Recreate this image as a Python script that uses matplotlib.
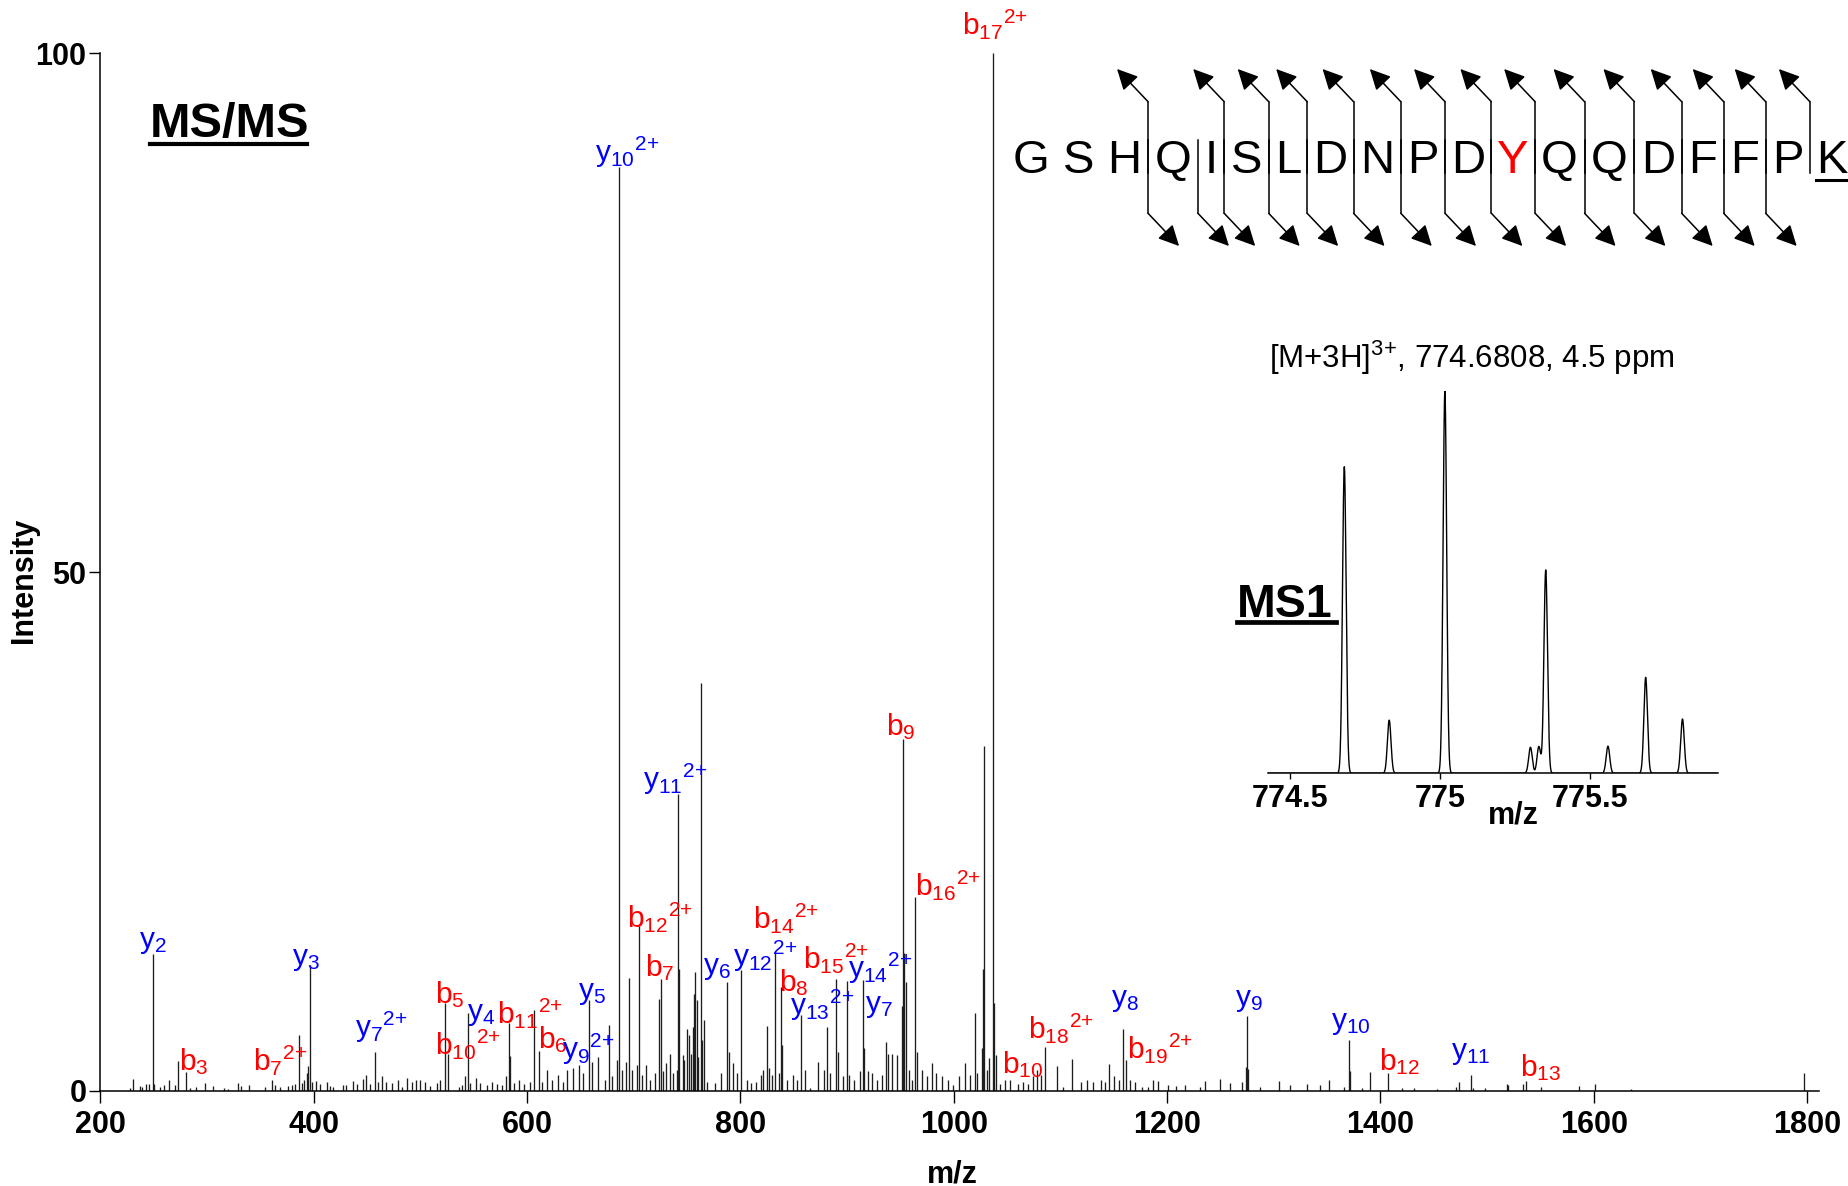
import numpy as np
import matplotlib
matplotlib.use('Agg')
import matplotlib.pyplot as plt
from matplotlib.lines import Line2D
from matplotlib.patches import FancyArrowPatch
from matplotlib.font_manager import FontProperties

plt.rcParams['font.family'] = ['Liberation Sans', 'DejaVu Sans']
plt.rcParams['mathtext.fontset'] = 'custom'
plt.rcParams['mathtext.rm'] = 'Liberation Sans'
plt.rcParams['mathtext.it'] = 'Liberation Sans:italic'
plt.rcParams['mathtext.bf'] = 'Liberation Sans:bold'

W, H = 1849, 1186

# MS/MS centroid list (m/z, relative intensity)
peak_mz = [228.0, 230.7, 236.7, 238.7, 242.7, 245.7, 249.3, 250.7, 255.7, 259.7, 264.3, 270.2,
           273.2, 280.7, 283.7, 289.7, 297.7, 305.2, 316.2, 319.7, 329.4, 332.2, 339.2, 354.3,
           360.7, 363.7, 368.3, 376.2, 379.4, 382.5, 386.3, 389.4, 391.3, 393.5, 395.1, 396.7,
           398.5, 402.3, 406.0, 412.2, 415.4, 418.5, 427.3, 430.4, 436.7, 440.4, 446.1, 449.2,
           453.0, 457.7, 459.9, 464.0, 468.1, 473.4, 479.0, 482.8, 487.5, 492.2, 496.2, 500.0,
           504.7, 509.4, 515.7, 518.7, 523.1, 525.6, 535.9, 539.1, 542.2, 544.4, 546.9, 552.5,
           556.3, 562.5, 567.2, 571.9, 576.7, 580.7, 583.2, 584.2, 587.6, 592.3, 597.0, 602.7,
           606.7, 610.8, 614.2, 618.9,
           623.1, 629.4, 634.1, 637.2, 643.5, 649.1, 652.8, 658.5, 660.7, 666.9, 673.2, 676.9,
           679.5, 684.1, 686.3, 688.8, 692.9, 695.4, 698.2, 702.9, 704.8, 707.5, 711.6, 715.4,
           720.1, 723.8, 725.4, 727.9, 730.4, 734.1, 737.3, 740.4, 742.0, 742.9, 746.0, 747.6,
           750.1, 752.0, 753.5, 755.4, 756.7, 757.9, 759.2, 760.7, 763.5, 764.5, 765.7, 768.5,
           776.4, 782.0, 787.3, 789.2, 792.9, 796.7, 800.8, 806.1, 809.8, 814.8, 819.2, 821.1,
           824.8, 826.4, 829.5, 832.7, 835.8, 837.7, 838.9, 843.6, 849.2, 853.0, 856.4, 860.8,
           865.5, 872.7, 878.0, 881.4, 884.2, 889.5, 891.4,
           895.9, 900.3, 902.1, 906.5, 912.1, 914.6, 915.9, 920.0, 923.1, 927.8, 932.5, 936.2,
           938.7, 941.8, 946.5, 951.2, 952.2, 953.4, 955.0, 958.1, 961.3, 964.1, 965.3, 970.0,
           975.3, 980.0, 983.4, 988.8, 995.0, 999.7, 1005.3, 1010.3, 1015.3, 1019.7, 1022.2,
           1026.3, 1027.8, 1028.8, 1031.0, 1033.5, 1036.9, 1037.8, 1039.4, 1043.5, 1048.2,
           1052.9, 1060.7, 1064.7, 1070.1, 1074.7, 1077.9, 1081.6, 1086.0, 1096.9, 1102.9,
           1111.3, 1119.2, 1124.8, 1131.0, 1137.9, 1142.0, 1146.0, 1150.4, 1154.8, 1159.2,
           1161.7, 1165.4, 1170.1, 1176.4, 1182.5, 1187.3,
           1191.9, 1201.2, 1208.5, 1216.9, 1231.0, 1235.7, 1249.7, 1259.1, 1270.1, 1273.8,
           1275.1, 1276.3, 1287.3, 1305.4, 1315.4, 1331.1, 1343.6, 1352.3, 1365.5, 1370.5,
           1371.7, 1382.6, 1390.2, 1407.2, 1420.0, 1431.9, 1453.0, 1470.9, 1474.0, 1484.8,
           1486.6, 1498.2, 1518.8, 1520.0, 1534.0, 1536.2, 1550.6, 1585.9, 1601.2, 1635.2, 1797.2]
peak_int = [0.26, 1.2, 0.5, 0.4, 0.7, 0.7, 13.2, 0.7, 0.4, 0.6, 1.1, 0.6,
            2.9, 1.8, 0.3, 0.4, 0.8, 0.5, 0.3, 0.2, 0.8, 0.5, 0.6, 0.4,
            1.1, 0.6, 0.4, 0.5, 0.6, 0.7, 5.4, 0.8, 1.1, 1.7, 2.4, 12.0,
            0.9, 1.0, 0.7, 0.9, 0.5, 0.4, 0.6, 0.6, 1.0, 0.7, 1.2, 1.5,
            0.7, 3.8, 0.9, 1.4, 0.9, 0.8, 1.1, 0.4, 1.3, 0.9, 1.1, 1.1,
            0.9, 0.5, 0.8, 1.1, 8.5, 3.6, 0.4, 0.6, 1.4, 7.5, 0.8, 1.3,
            0.8, 0.6, 0.9, 0.7, 0.6, 1.4, 6.6, 3.4, 0.8, 1.1, 0.7, 0.9,
            7.8, 3.9, 0.9, 2.0,
            1.1, 1.5, 0.9, 2.0, 2.2, 2.5, 1.7, 8.8, 2.8, 3.3, 1.1, 6.4,
            1.4, 3.0, 89.0, 2.0, 2.8, 10.9, 2.0, 2.5, 15.9, 1.5, 2.5, 1.1,
            1.7, 8.9, 10.8, 1.9, 2.7, 3.6, 1.7, 2.0, 28.6, 11.8, 3.5, 3.0,
            6.0, 5.4, 3.6, 6.2, 9.3, 11.5, 8.8, 3.3, 39.3, 4.9, 6.8, 0.9,
            0.8, 1.7, 10.5, 3.8, 2.7, 1.7, 11.7, 1.1, 0.8, 0.9, 1.5, 2.0,
            6.3, 2.2, 1.5, 13.4, 1.7, 10.0, 4.4, 1.1, 1.5, 1.1, 7.3, 2.0,
            0.3, 2.8, 2.0, 6.2, 1.7, 10.8, 3.8,
            1.4, 10.6, 1.5, 1.1, 1.9, 10.7, 4.1, 1.9, 1.7, 1.1, 1.5, 4.7,
            3.6, 3.6, 3.5, 8.2, 33.9, 13.3, 10.5, 2.0, 1.1, 18.7, 3.8, 2.0,
            1.4, 2.7, 1.7, 1.4, 1.1, 0.6, 1.4, 2.7, 1.5, 7.5, 1.7,
            4.1, 11.8, 33.2, 2.0, 3.2, 100.0, 8.5, 3.5, 0.7, 1.1,
            1.1, 0.7, 0.9, 0.7, 1.4, 2.0, 1.5, 4.2, 2.4, 0.4,
            3.1, 0.9, 1.1, 0.9, 1.1, 0.9, 2.6, 1.4, 1.1, 6.0,
            3.0, 1.1, 0.9, 0.4, 0.4, 1.1,
            1.0, 0.6, 0.5, 0.6, 0.4, 1.0, 1.2, 0.8, 0.9, 2.3,
            7.2, 2.1, 0.4, 1.0, 0.6, 0.7, 0.6, 1.1, 0.4, 4.9,
            1.9, 0.3, 1.8, 1.7, 0.3, 0.3, 0.2, 0.4, 0.9, 1.5,
            0.3, 0.3, 0.7, 0.6, 0.7, 1.0, 0.4, 0.5, 0.7, 0.2, 1.7]

# fragment annotations
ion_type = ['y', 'b', 'b', 'y', 'y', 'b', 'b', 'y', 'b', 'b', 'y', 'y', 'y', 'b', 'b',
            'y', 'b', 'y', 'y', 'b', 'b', 'y', 'b', 'y', 'y', 'b', 'b', 'b', 'b', 'b',
            'y', 'b', 'y', 'y', 'b', 'y']
ion_num = ['2', '3', '7', '3', '7', '5', '10', '4', '11', '6', '9', '5', '10', '12', '7',
           '11', '14', '6', '12', '8', '15', '13', '9', '14', '7', '16', '17', '10', '18', '19',
           '8', '12', '9', '10', '13', '11']
ion_charge = ['', '', '2+', '', '2+', '', '2+', '', '2+', '', '2+', '', '2+', '2+', '',
              '2+', '2+', '', '2+', '', '2+', '2+', '', '2+', '', '2+', '2+', '', '2+', '2+',
              '', '', '', '', '', '']
# label anchor (left, baseline) in data units
label_pos = [(236.5, 13.8), (273.7, 2.0), (343.3, 2.0), (379.3, 12.1), (438.7, 5.2),
             (513.7, 8.5), (513.7, 3.5), (543.4, 6.8), (572.1, 6.5), (610.2, 4.1),
             (632.4, 3.1), (647.9, 8.9), (663.3, 89.5), (693.9, 15.8), (710.7, 11.1),
             (708.4, 29.1), (812.2, 15.7), (764.7, 11.3), (793.4, 12.0), (836.5, 9.6),
             (859.0, 11.8), (846.5, 7.3), (936.5, 34.3), (901.2, 10.9), (916.9, 7.6),
             (963.7, 18.9), (1007.5, 101.8), (1045.0, 1.7), (1069.4, 5.1), (1162.2, 3.15),
             (1147.5, 8.2), (1398.3, 2.0), (1263.7, 8.2), (1353.5, 6.0), (1531.3, 1.4),
             (1466.4, 3.1)]

# peptide sequence and observed cleavages (break after residue n)
sequence = ['G', 'S', 'H', 'Q', 'I', 'S', 'L', 'D', 'N', 'P', 'D', 'Y', 'Q', 'Q', 'D', 'F', 'F', 'P', 'K']
b_breaks = [3, 5, 6, 7, 8, 9, 10, 11, 12, 13, 14, 15, 16, 17, 18]
y_breaks = [3, 4, 5, 6, 7, 8, 9, 10, 11, 12, 13, 14, 15, 16, 17]
site_residue = 12
modified_residue = 19

# MS1 isotope envelope (m/z, relative height)
ms1_mz = [774.680, 774.830, 775.016, 775.302, 775.330, 775.353, 775.561, 775.687, 775.810]
ms1_int = [80.2, 13.9, 100.0, 6.8, 7.0, 53.2, 7.1, 25.1, 14.2]
ms1_ticks = [774.5, 775.0, 775.5]
ms1_ticklabels = ['774.5', '775', '775.5']


def fx(x):
    return x / W


def fy(y):
    return 1 - y / H


fig = plt.figure(figsize=(W / 100, H / 100), dpi=100)

# ---- main MS/MS spectrum
ax = fig.add_axes([fx(100.4), fy(1091), (1818.7 - 100.4) / W, (1091 - 53.3) / H])
ax.vlines(peak_mz, 0, peak_int, color='#1e1e1e', lw=0.95)
ax.set_xlim(200, 1811)
ax.set_ylim(0, 100)
ax.spines['top'].set_visible(False)
ax.spines['right'].set_visible(False)
for sp in ['left', 'bottom']:
    ax.spines[sp].set_linewidth(1.1)
ax.set_xticks([200, 400, 600, 800, 1000, 1200, 1400, 1600, 1800])
ax.set_yticks([0, 50, 100])
ax.tick_params(axis='x', direction='out', length=8.5, width=1.0, labelsize=22, pad=5)
ax.tick_params(axis='y', direction='out', length=8, width=1.0, labelsize=22, pad=2)
plt.setp(ax.get_xticklabels() + ax.get_yticklabels(), fontweight='bold')
ax.set_xlabel('m/z', fontsize=22, fontweight='bold')
ax.xaxis.set_label_coords(0.496, -0.066)
ax.xaxis.label.set_va('top')
fig.text(fx(23.6), fy(580), 'Intensity', rotation=90, ha='center', va='center',
         fontsize=22, fontweight='bold')

for t, n, c, (lx, ly) in zip(ion_type, ion_num, ion_charge, label_pos):
    s = r'$\mathrm{%s}_{%s}$' % (t, n)
    if c:
        s = r'$\mathrm{%s}_{%s}{}^{2{+}}$' % (t, n)
    ax.text(lx, ly, s, color='red' if t == 'b' else 'blue', fontsize=21.5,
            ha='left', va='baseline', clip_on=False)

fig.text(fx(149.6), fy(136.7), 'MS/MS', fontsize=35, fontweight='bold', ha='left', va='baseline')
fig.add_artist(Line2D([fx(149.6), fx(307.1)], [fy(143.7), fy(143.7)], color='black', lw=3.0,
                      transform=fig.transFigure))

# ---- peptide sequence with fragment brackets
renderer = fig.canvas.get_renderer()
fp = FontProperties(family='Liberation Sans', size=34)
seq_str = ' '.join(sequence)
x0 = 1013.0
base_y = 173.3
cap_y = 140.0
lefts, rights = [], []
for i, aa in enumerate(sequence):
    w_prefix, _, _ = renderer.get_text_width_height_descent(seq_str[:2 * i + 1], fp, ismath=False)
    w_aa, _, _ = renderer.get_text_width_height_descent(aa, fp, ismath=False)
    right = x0 + w_prefix
    rights.append(right)
    lefts.append(right - w_aa)
    fig.text(fx(right), fy(base_y), aa, fontproperties=fp, ha='right', va='baseline',
             color='red' if i + 1 == site_residue else 'black')
    if i + 1 == modified_residue:
        fig.add_artist(Line2D([fx(right - w_aa), fx(right)], [fy(180), fy(180)],
                              color='black', lw=2.2, transform=fig.transFigure))

arrow_kw = dict(arrowstyle='-|>,head_length=0.6,head_width=0.3', mutation_scale=21,
                color='black', lw=1.1, shrinkA=0, shrinkB=0)
for n in b_breaks:
    gx = (rights[n - 1] + lefts[n]) / 2
    fig.add_artist(Line2D([fx(gx), fx(gx)], [fy(base_y), fy(101.7)], color='black', lw=1.1,
                          transform=fig.transFigure))
    fig.add_artist(FancyArrowPatch((fx(gx), fy(101.7)), (fx(gx - 31), fy(69)),
                                   transform=fig.transFigure, **arrow_kw))
for n in y_breaks:
    gx = (rights[n - 1] + lefts[n]) / 2
    fig.add_artist(Line2D([fx(gx), fx(gx)], [fy(cap_y), fy(213.3)], color='black', lw=1.1,
                          transform=fig.transFigure))
    fig.add_artist(FancyArrowPatch((fx(gx), fy(213.3)), (fx(gx + 31), fy(246)),
                                   transform=fig.transFigure, **arrow_kw))

# ---- MS1 inset
ax2 = fig.add_axes([fx(1268.3), fy(773.3), (1717.5 - 1268.3) / W, (773.3 - 391) / H])
ax2.patch.set_alpha(0)
grid = np.linspace(774.426, 775.927, 4000)
profile = np.zeros_like(grid)
for m, h in zip(ms1_mz, ms1_int):
    profile += h * np.exp(-0.5 * ((grid - m) / 0.006) ** 2)
ax2.plot(grid, profile, color='black', lw=1.0)
ax2.set_xlim(774.426, 775.927)
ax2.set_ylim(0, 100)
for sp in ['left', 'right', 'top']:
    ax2.spines[sp].set_visible(False)
ax2.spines['bottom'].set_linewidth(1.1)
ax2.set_yticks([])
ax2.set_xticks(ms1_ticks)
ax2.set_xticklabels(ms1_ticklabels)
ax2.tick_params(axis='x', direction='out', length=4, width=1.0, labelsize=22, pad=4)
plt.setp(ax2.get_xticklabels(), fontweight='bold')
ax2.set_xlabel('m/z', fontsize=22, fontweight='bold')
ax2.xaxis.set_label_coords(0.545, -0.07)
ax2.xaxis.label.set_va('top')

fig.text(fx(1472), fy(368.3), r'[M+3H]$^{3{+}}$, 774.6808, 4.5 ppm', fontsize=22.5,
         ha='center', va='baseline')
fig.text(fx(1236.8), fy(616.7), 'MS1', fontsize=33.5, fontweight='bold', ha='left', va='baseline')
fig.add_artist(Line2D([fx(1236.8), fx(1335.9)], [fy(622), fy(622)], color='black', lw=3.4,
                      transform=fig.transFigure))

fig.savefig('out.png', dpi=100)
